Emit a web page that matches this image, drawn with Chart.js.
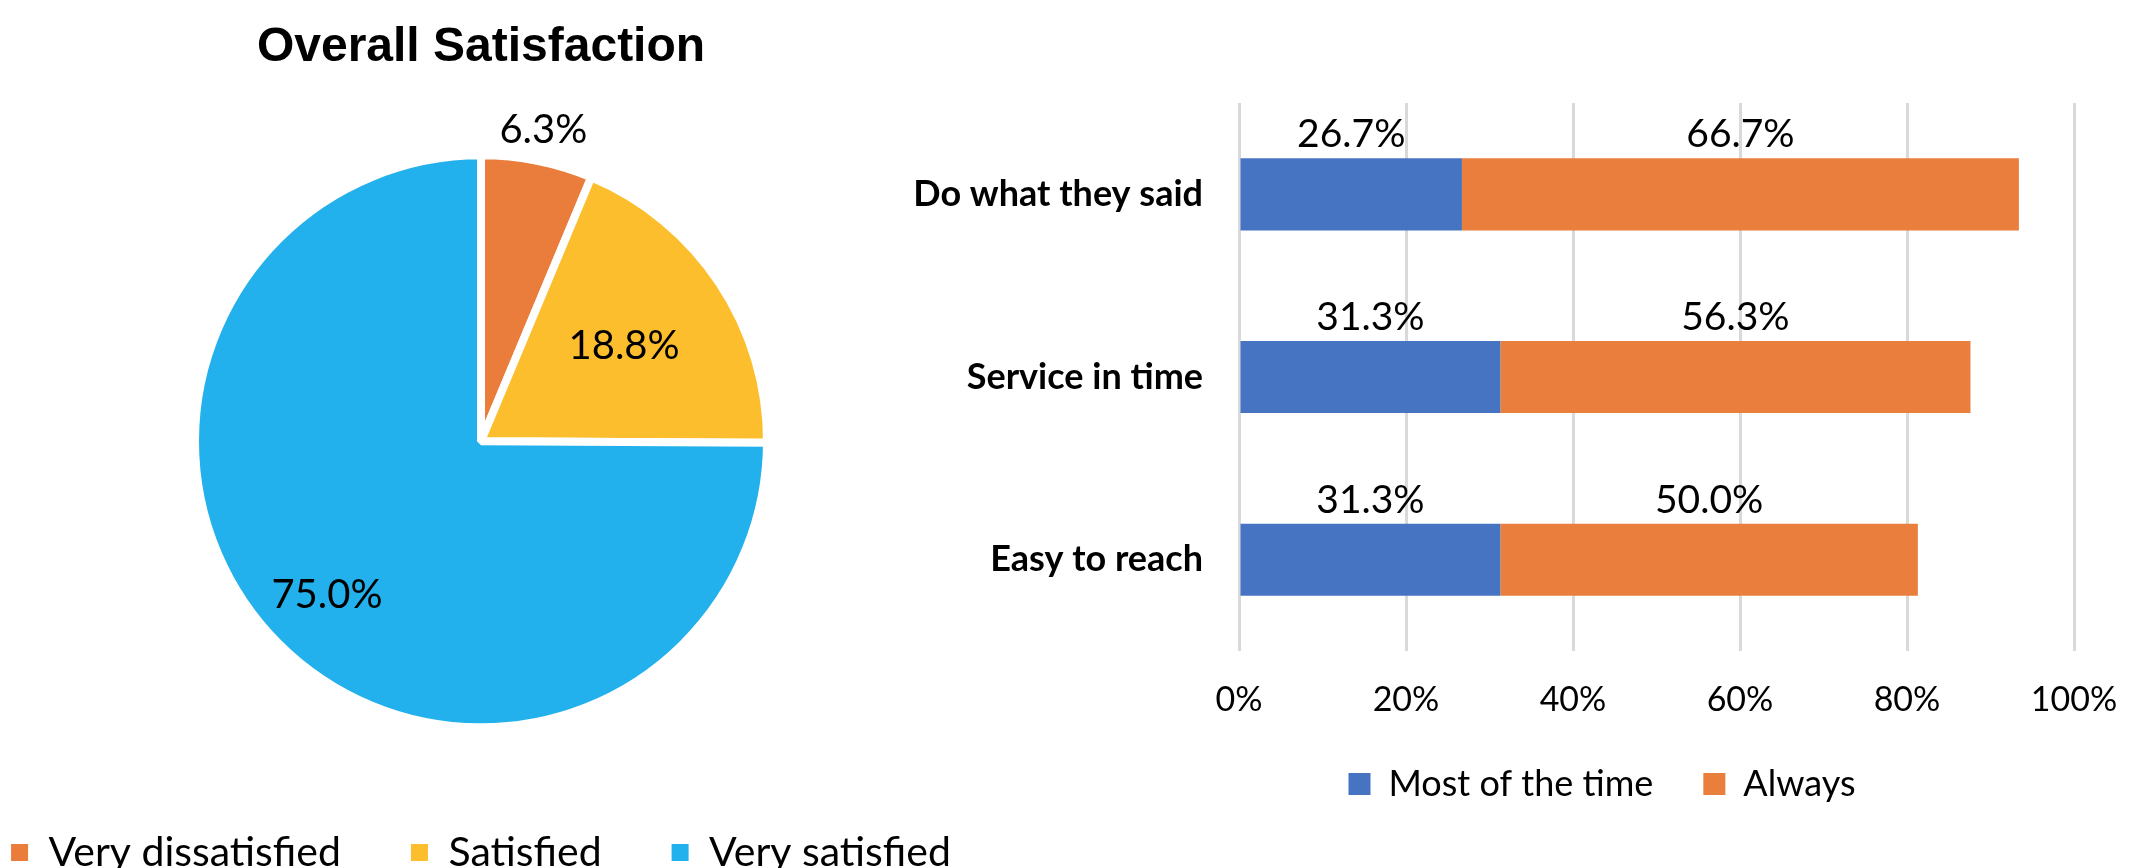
<!DOCTYPE html>
<html>
<head>
<meta charset="utf-8">
<title>Overall Satisfaction</title>
<script src="https://cdn.jsdelivr.net/npm/chart.js@4.4.1/dist/chart.umd.min.js"></script>
<style>
  html, body { margin: 0; padding: 0; background: #fff; overflow: hidden; width: 2129px; height: 868px; }
  canvas { position: absolute; top: 0; }
  #pieCanvas { left: -100px; }
  #barCanvas { left: 880px; }
</style>
</head>
<body>
<canvas id="pieCanvas" width="1162" height="883"></canvas>
<canvas id="barCanvas" width="1444" height="812"></canvas>
<script>
// Pie: overall satisfaction
const pieLabels = ["Very dissatisfied", "Satisfied", "Very satisfied"];
const pieValues = [6.3, 18.8, 75.0];
const pieColors = ["#EB7D3C", "#FDBE2E", "#22B1EC"];

// Bars: how often the service met expectations
const barCategories = ["Do what they said", "Service in time", "Easy to reach"];
const mostOfTheTime = [26.7, 31.3, 31.3];
const always = [66.7, 56.3, 50.0];
const xTicks = [0, 20, 40, 60, 80, 100];

document.addEventListener("DOMContentLoaded", () => {
  const pieTotal = pieValues.reduce((a, b) => a + b, 0);

  // Percent labels on the slices (small slice goes outside)
  const pieLabelPlugin = {
    id: "pieLabels",
    afterDatasetsDraw(chart) {
      const { ctx } = chart;
      ctx.save();
      ctx.font = "40px Lato";
      ctx.fillStyle = "#000";
      ctx.textAlign = "center";
      ctx.textBaseline = "middle";
      chart.getDatasetMeta(0).data.forEach((arc, i) => {
        const { x, y, startAngle, endAngle, outerRadius } = arc.getProps(
          ["x", "y", "startAngle", "endAngle", "outerRadius"], true);
        const mid = (startAngle + endAngle) / 2;
        const share = pieValues[i] / pieTotal;
        const k = share < 0.1 ? 1.11 : share > 0.5 ? 0.76 : 0.6;
        ctx.fillText(pieValues[i].toFixed(1) + "%", x + Math.cos(mid) * outerRadius * k, y + Math.sin(mid) * outerRadius * k);
      });
      ctx.restore();
    },
  };

  // Percent labels above each bar segment
  const barLabelPlugin = {
    id: "barLabels",
    afterDatasetsDraw(chart) {
      const { ctx } = chart;
      ctx.save();
      ctx.font = "39px Lato";
      ctx.fillStyle = "#000";
      ctx.textAlign = "center";
      ctx.textBaseline = "bottom";
      chart.data.datasets.forEach((ds, di) => {
        chart.getDatasetMeta(di).data.forEach((bar, i) => {
          const { x, y, base, height } = bar.getProps(["x", "y", "base", "height"], true);
          ctx.fillText(ds.data[i].toFixed(1) + "%", (x + base) / 2, y - height / 2 - 4);
        });
      });
      ctx.restore();
    },
  };

  new Chart(document.getElementById("pieCanvas"), {
    type: "pie",
    data: {
      labels: pieLabels,
      datasets: [
        {
          data: pieValues,
          backgroundColor: pieColors,
          borderColor: "#fff",
          borderWidth: 8,
          radius: 286,
        },
      ],
    },
    options: {
      responsive: false,
      animation: false,
      plugins: {
        title: {
          display: true,
          text: "Overall Satisfaction",
          color: "#000",
          font: { family: "Liberation Sans", size: 48, weight: "bold" },
          padding: { top: 19, bottom: 44 },
        },
        legend: {
          position: "bottom",
          labels: {
            color: "#000",
            font: { family: "Lato", size: 41 },
            boxWidth: 17,
            boxHeight: 17,
            padding: 70,
            generateLabels: (chart) =>
              Chart.overrides.pie.plugins.legend.labels
                .generateLabels(chart)
                .map((item) => ({ ...item, lineWidth: 0 })),
          },
        },
        tooltip: { enabled: false },
      },
    },
    plugins: [pieLabelPlugin],
  });

  new Chart(document.getElementById("barCanvas"), {
    type: "bar",
    data: {
      labels: barCategories,
      datasets: [
        { label: "Most of the time", data: mostOfTheTime, backgroundColor: "#4674C2" },
        { label: "Always", data: always, backgroundColor: "#EA7E3D" },
      ],
    },
    options: {
      indexAxis: "y",
      responsive: false,
      animation: false,
      categoryPercentage: 1,
      barPercentage: 0.395,
      layout: { padding: { top: 103, left: 0, right: 0, bottom: 0 } },
      scales: {
        x: {
          stacked: true,
          min: xTicks[0],
          max: xTicks[xTicks.length - 1],
          afterBuildTicks: (scale) => {
            scale.ticks = xTicks.map((v) => ({ value: v }));
          },
          ticks: {
            callback: (v) => v + "%",
            color: "#000",
            font: { family: "Lato", size: 34, lineHeight: 0.88 },
            padding: 1,
          },
          // invisible tick marks push the labels down from the grid
          grid: { color: "#D9D9D9", lineWidth: 3, tickLength: 33, tickColor: "rgba(0,0,0,0)" },
          border: { display: false },
        },
        y: {
          stacked: true,
          ticks: {
            color: "#000",
            font: { family: "Lato", size: 36, weight: "bold" },
            padding: 36,
          },
          grid: { display: false, drawTicks: false },
          border: { display: false },
          afterFit: (scale) => {
            scale.width = 359;
          },
        },
        // empty right-hand strip so the legend sits where it does in the original
        yRight: {
          type: "linear",
          position: "right",
          ticks: { display: false },
          grid: { display: false, drawTicks: false },
          border: { display: false },
          afterFit: (scale) => {
            scale.width = 250;
          },
        },
      },
      plugins: {
        legend: {
          position: "bottom",
          labels: {
            color: "#000",
            font: { family: "Lato", size: 36 },
            boxWidth: 22,
            boxHeight: 22,
            padding: 50,
          },
        },
        tooltip: { enabled: false },
      },
    },
    plugins: [barLabelPlugin],
  });
});
</script>
</body>
</html>
